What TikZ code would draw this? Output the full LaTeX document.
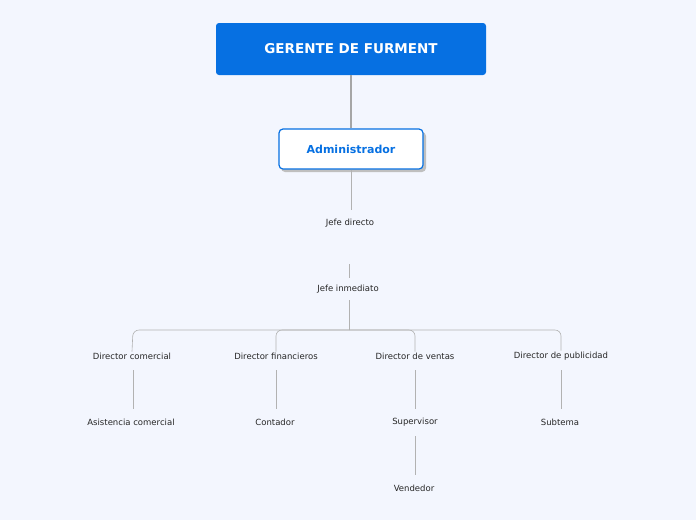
\documentclass[tikz,border=0pt]{standalone}
\usepackage{fontspec}
\setmainfont{DejaVu Sans}
\begin{document}
\begin{tikzpicture}[x=1pt,y=-1pt,
  lbl/.style={font=\fontsize{8.5}{10}\selectfont,text=black!85,inner sep=1pt},
  conn/.style={draw=gray!60,line width=0.6pt,rounded corners=6pt}]
\useasboundingbox[fill={rgb,255:red,243;green,246;blue,254}] (0,0) rectangle (696,520);
\node[fill={rgb,255:red,6;green,112;blue,226},rounded corners=3pt,minimum width=270pt,minimum height=52pt,text=white,font=\bfseries\fontsize{13.5}{16}\selectfont] (g) at (351,49) {GERENTE DE FURMENT};
\fill[black!25,rounded corners=4pt] (281,132) rectangle (426,172);
\node[fill=white,draw={rgb,255:red,6;green,112;blue,226},line width=1.2pt,rounded corners=4pt,minimum width=144pt,minimum height=40pt,text={rgb,255:red,6;green,112;blue,226},font=\bfseries\fontsize{11}{13}\selectfont] (a) at (351,149) {Administrador};
\draw[draw=gray!70,line width=2pt] (g.south) -- (a.north);
\node[lbl] (jd) at (350,223) {Jefe directo};
\node[lbl] (ji) at (348,289) {Jefe inmediato};
\node[lbl] (dc) at (132,356) {Director comercial};
\node[lbl] (df) at (276,356) {Director financieros};
\node[lbl] (dv) at (415,356) {Director de ventas};
\node[lbl] (dp) at (561,356) {Director de publicidad};
\node[lbl] (ac) at (131,422) {Asistencia comercial};
\node[lbl] (co) at (275,422) {Contador};
\node[lbl] (su) at (415,422) {Supervisor};
\node[lbl] (sb) at (560,422) {Subtema};
\node[lbl] (ve) at (414,488) {Vendedor};
\draw[conn] (a.south) -- ++(0,40) coordinate (t1);
\draw[conn] (349,264) -- ++(0,14);
\coordinate (bar) at (349,330);
\draw[conn] (349,300) -- (bar);
\foreach \n/\x in {dc/133,df/276,dv/415,dp/561}{
  \draw[conn] (bar) -- (\x,330) -- (\n.north);
}
\draw[conn] (133,370) -- (133,409);
\draw[conn] (276,370) -- (276,409);
\draw[conn] (415,370) -- (415,409);
\draw[conn] (561,370) -- (561,409);
\draw[conn] (415,436) -- (415,475);
\end{tikzpicture}
\end{document}
